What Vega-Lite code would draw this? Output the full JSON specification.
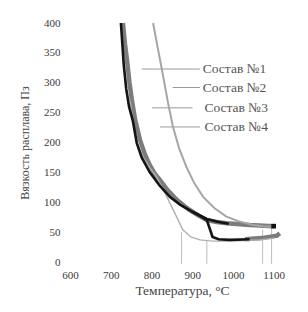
{
  "$schema": "https://vega.github.io/schema/vega-lite/v6.json",
  "width": 224,
  "height": 239,
  "autosize": "none",
  "padding": {"left": 70, "top": 23, "right": 14, "bottom": 50},
  "background": "white",
  "config": {
    "view": {"stroke": null},
    "font": "Liberation Serif",
    "axis": {"domain": false, "ticks": false, "grid": false, "labelFont": "Liberation Serif", "titleFont": "Liberation Serif", "labelColor": "#3a3a3a", "titleColor": "#444", "titleFontWeight": "normal", "labelFontSize": 11, "labelOverlap": false}
  },
  "datasets": {
    "curves": [
      {"st": "thick", "seg": "a", "t": 730, "v": 400}, {"st": "thick", "seg": "a", "t": 735, "v": 365}, {"st": "thick", "seg": "a", "t": 740, "v": 338}, {"st": "thick", "seg": "a", "t": 746, "v": 300}, {"st": "thick", "seg": "a", "t": 752, "v": 271}, {"st": "thick", "seg": "a", "t": 760, "v": 238}, {"st": "thick", "seg": "a", "t": 772, "v": 204}, {"st": "thick", "seg": "a", "t": 784, "v": 180}, {"st": "thick", "seg": "a", "t": 796, "v": 162}, {"st": "thick", "seg": "a", "t": 808, "v": 148}, {"st": "thick", "seg": "a", "t": 821, "v": 137}, {"st": "thick", "seg": "a", "t": 840, "v": 120}, {"st": "thick", "seg": "a", "t": 862, "v": 104}, {"st": "thick", "seg": "a", "t": 880, "v": 94}, {"st": "thick", "seg": "a", "t": 894, "v": 87}, {"st": "thick", "seg": "a", "t": 915, "v": 78}, {"st": "thick", "seg": "a", "t": 936, "v": 70}, {"st": "thick", "seg": "a", "t": 960, "v": 67}, {"st": "thick", "seg": "a", "t": 985, "v": 65}, {"st": "thick", "seg": "a", "t": 1041, "v": 62}, {"st": "thick", "seg": "a", "t": 1100, "v": 60},
      {"st": "thick", "seg": "b", "t": 1030, "v": 38}, {"st": "thick", "seg": "b", "t": 1070, "v": 40}, {"st": "thick", "seg": "b", "t": 1108, "v": 44}, {"st": "thick", "seg": "b", "t": 1115, "v": 48},
      {"st": "black", "seg": "a", "t": 725, "v": 400}, {"st": "black", "seg": "a", "t": 728, "v": 370}, {"st": "black", "seg": "a", "t": 732, "v": 330}, {"st": "black", "seg": "a", "t": 738, "v": 290}, {"st": "black", "seg": "a", "t": 745, "v": 260}, {"st": "black", "seg": "a", "t": 754, "v": 237}, {"st": "black", "seg": "a", "t": 764, "v": 199}, {"st": "black", "seg": "a", "t": 776, "v": 175}, {"st": "black", "seg": "a", "t": 796, "v": 150}, {"st": "black", "seg": "a", "t": 820, "v": 128}, {"st": "black", "seg": "a", "t": 845, "v": 109}, {"st": "black", "seg": "a", "t": 870, "v": 96}, {"st": "black", "seg": "a", "t": 901, "v": 84}, {"st": "black", "seg": "a", "t": 920, "v": 77}, {"st": "black", "seg": "a", "t": 936, "v": 70}, {"st": "black", "seg": "a", "t": 943, "v": 56}, {"st": "black", "seg": "a", "t": 950, "v": 42}, {"st": "black", "seg": "a", "t": 965, "v": 38}, {"st": "black", "seg": "a", "t": 992, "v": 37}, {"st": "black", "seg": "a", "t": 1041, "v": 38},
      {"st": "black", "seg": "b", "t": 901, "v": 84}, {"st": "black", "seg": "b", "t": 936, "v": 72}, {"st": "black", "seg": "b", "t": 965, "v": 67}, {"st": "black", "seg": "b", "t": 990, "v": 64},
      {"st": "light", "seg": "a", "t": 804, "v": 400}, {"st": "light", "seg": "a", "t": 815, "v": 360}, {"st": "light", "seg": "a", "t": 829, "v": 310}, {"st": "light", "seg": "a", "t": 841, "v": 265}, {"st": "light", "seg": "a", "t": 853, "v": 226}, {"st": "light", "seg": "a", "t": 868, "v": 190}, {"st": "light", "seg": "a", "t": 886, "v": 159}, {"st": "light", "seg": "a", "t": 905, "v": 132}, {"st": "light", "seg": "a", "t": 927, "v": 109}, {"st": "light", "seg": "a", "t": 955, "v": 90}, {"st": "light", "seg": "a", "t": 984, "v": 76}, {"st": "light", "seg": "a", "t": 1015, "v": 68}, {"st": "light", "seg": "a", "t": 1049, "v": 62}, {"st": "light", "seg": "a", "t": 1075, "v": 60}, {"st": "light", "seg": "a", "t": 1100, "v": 59},
      {"st": "thin", "seg": "a", "t": 747, "v": 271}, {"st": "thin", "seg": "a", "t": 755, "v": 235}, {"st": "thin", "seg": "a", "t": 762, "v": 204}, {"st": "thin", "seg": "a", "t": 779, "v": 176}, {"st": "thin", "seg": "a", "t": 796, "v": 158}, {"st": "thin", "seg": "a", "t": 813, "v": 142}, {"st": "thin", "seg": "a", "t": 830, "v": 120}, {"st": "thin", "seg": "a", "t": 845, "v": 99}, {"st": "thin", "seg": "a", "t": 860, "v": 78}, {"st": "thin", "seg": "a", "t": 877, "v": 54}, {"st": "thin", "seg": "a", "t": 897, "v": 42}, {"st": "thin", "seg": "a", "t": 919, "v": 37}, {"st": "thin", "seg": "a", "t": 950, "v": 35}, {"st": "thin", "seg": "a", "t": 992, "v": 35}, {"st": "thin", "seg": "a", "t": 1030, "v": 36}, {"st": "thin", "seg": "a", "t": 1066, "v": 37}, {"st": "thin", "seg": "a", "t": 1102, "v": 40}
    ],
    "drops": [
      {"t": 874, "v": -3, "v2": 50},
      {"t": 936, "v": -3, "v2": 36},
      {"t": 1073, "v": -3, "v2": 54},
      {"t": 1095, "v": -3, "v2": 58}
    ],
    "legend": [
      {"name": "Состав №1", "t": 776, "x2": 919, "tx": 926, "v": 323},
      {"name": "Состав №2", "t": 852, "x2": 919, "tx": 926, "v": 292},
      {"name": "Состав №3", "t": 801, "x2": 901, "tx": 930, "v": 258},
      {"name": "Состав №4", "t": 821, "x2": 919, "tx": 930, "v": 226}
    ],
    "ends": [
      {"t": 1100, "v": 60}
    ]
  },
  "encoding": {
    "x": {"field": "t", "type": "quantitative", "scale": {"domain": [600, 1150], "nice": false, "zero": false},
      "axis": {"values": [600, 700, 800, 900, 1000, 1100], "format": "d", "title": "Температура, °С", "titleFontSize": 13.5, "labelPadding": 7, "titlePadding": 3, "labelFlush": false, "labelOverlap": false}},
    "y": {"field": "v", "type": "quantitative", "scale": {"domain": [0, 400], "nice": false},
      "axis": {"values": [0, 50, 100, 150, 200, 250, 300, 350, 400], "format": "d", "title": "Вязкость расплава, Пз", "titleFontSize": 12, "labelPadding": 10, "titlePadding": 12, "labelFlush": false, "labelOverlap": false}}
  },
  "layer": [
    {
      "data": {"name": "drops"},
      "mark": {"type": "rule", "color": "#bdbdbd", "strokeWidth": 1, "clip": false},
      "encoding": {"y2": {"field": "v2"}}
    },
    {
      "data": {"name": "legend"},
      "mark": {"type": "rule", "color": "#9a9a9a", "strokeWidth": 1},
      "encoding": {"x2": {"field": "x2"}}
    },
    {
      "data": {"name": "curves"},
      "transform": [{"filter": "datum.st === 'thick'"}],
      "mark": {"type": "line", "color": "#7c7c7c", "strokeWidth": 4.5, "clip": false},
      "encoding": {"detail": {"field": "seg"}}
    },
    {
      "data": {"name": "curves"},
      "transform": [{"filter": "datum.st === 'thin'"}],
      "mark": {"type": "line", "color": "#b0b0b0", "strokeWidth": 1.4, "clip": false},
      "encoding": {}
    },
    {
      "data": {"name": "curves"},
      "transform": [{"filter": "datum.st === 'black'"}],
      "mark": {"type": "line", "color": "#141414", "strokeWidth": 2.6, "clip": false},
      "encoding": {"detail": {"field": "seg"}}
    },
    {
      "data": {"name": "curves"},
      "transform": [{"filter": "datum.st === 'light'"}],
      "mark": {"type": "line", "color": "#a6a6a6", "strokeWidth": 2, "clip": false},
      "encoding": {}
    },
    {
      "data": {"name": "ends"},
      "mark": {"type": "square", "color": "#111", "size": 22, "opacity": 1},
      "encoding": {}
    },
    {
      "data": {"name": "legend"},
      "mark": {"type": "text", "align": "left", "baseline": "middle", "fontSize": 13.5, "color": "#555", "font": "Liberation Serif"},
      "encoding": {
        "x": {"field": "tx", "type": "quantitative"},
        "text": {"field": "name"}
      }
    }
  ]
}
